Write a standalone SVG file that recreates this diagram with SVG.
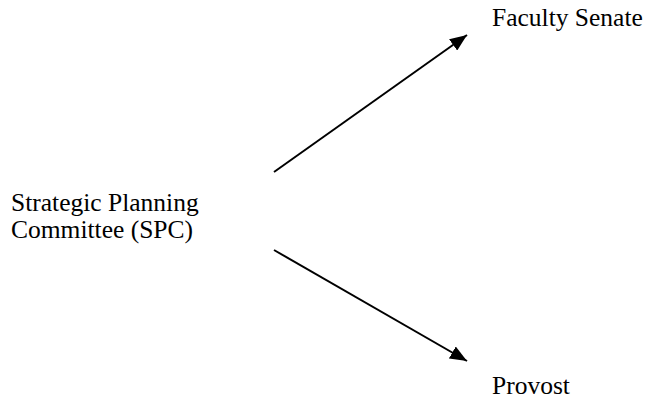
<svg xmlns="http://www.w3.org/2000/svg" width="654" height="409" viewBox="0 0 654 409">
<style>
.t{font-family:'Liberation Serif','Times New Roman',serif;font-size:25.5px;fill:#000}
.c{stroke:#000;stroke-width:2;fill:none}
</style>
<defs>
<marker id="ah" markerWidth="8.5" markerHeight="7" refX="8.5" refY="3.5" orient="auto" markerUnits="strokeWidth">
<path d="M0,0 L8.5,3.5 L0,7 Z" fill="#000"/>
</marker>
</defs>
<rect width="654" height="409" fill="#fff"/>
<g id="connectors">
<line class="c" x1="274" y1="172" x2="467" y2="35" marker-end="url(#ah)"/>
<line class="c" x1="274" y1="250" x2="467" y2="361" marker-end="url(#ah)"/>
</g>
<g id="spc" class="t">
<text x="11" y="211">Strategic Planning</text>
<text x="11" y="238">Committee (SPC)</text>
</g>
<g id="senate" class="t"><text x="492" y="26">Faculty Senate</text></g>
<g id="provost" class="t"><text x="492" y="394">Provost</text></g>
</svg>
